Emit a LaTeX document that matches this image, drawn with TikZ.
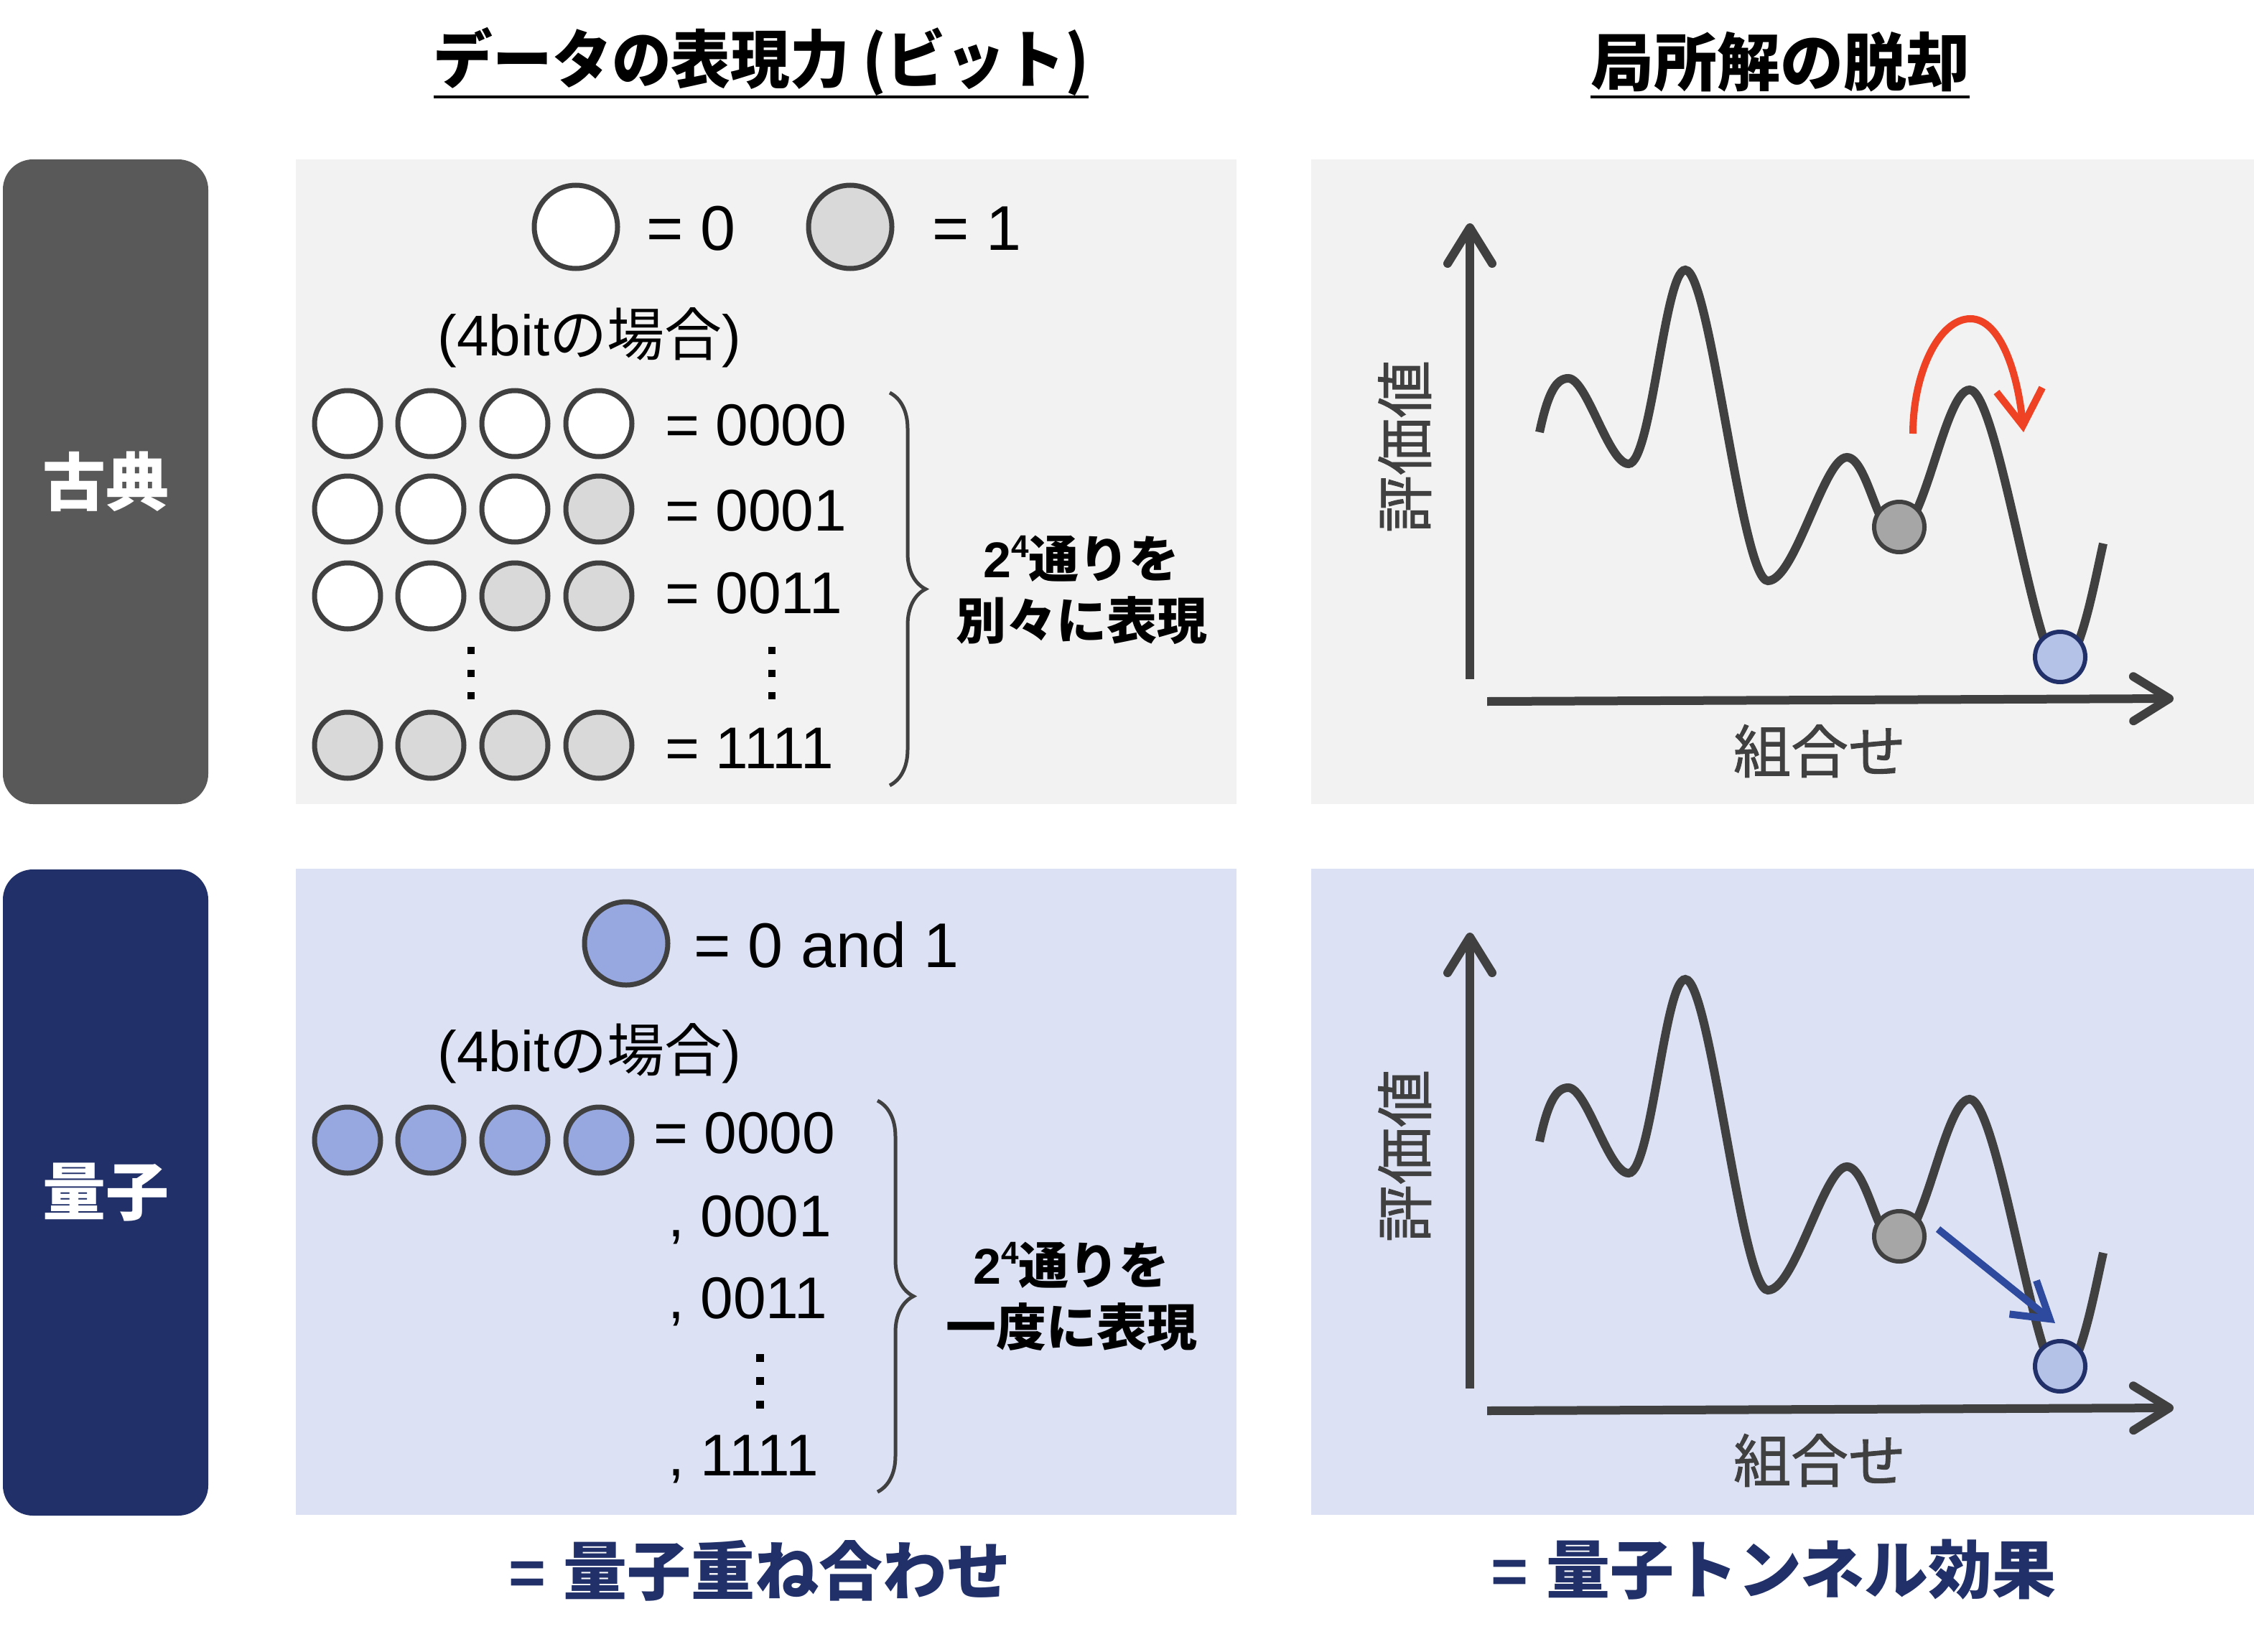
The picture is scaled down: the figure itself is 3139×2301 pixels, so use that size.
\documentclass[tikz,border=0pt]{standalone}
\usepackage{fontspec}
\setmainfont{Liberation Sans}
\newfontfamily\cjk{Noto Sans CJK JP}
\newfontfamily\cjkmed{Noto Sans CJK JP}[FakeBold=1.2]
\usetikzlibrary{arrows.meta,decorations.pathreplacing}
\definecolor{dgray}{HTML}{595959}
\definecolor{navy}{HTML}{213069}
\definecolor{clbg}{HTML}{F2F2F2}
\definecolor{qbg}{HTML}{DCE1F3}
\definecolor{lnc}{HTML}{404040}
\definecolor{onec}{HTML}{D9D9D9}
\definecolor{qc}{HTML}{97A7DF}
\definecolor{ballg}{HTML}{A6A6A6}
\definecolor{ballb}{HTML}{B4C2E8}
\definecolor{redc}{HTML}{EF4123}
\definecolor{bluec}{HTML}{2E4A9E}
\newcommand{\fs}[1]{\fontsize{#1}{#1}\selectfont}
\newcommand{\landscapecurve}{(2144,602) .. controls (2156,545) and (2168,527) .. (2184,527)
 .. controls (2210,527) and (2240,646) .. (2268,646)
 .. controls (2300,646) and (2318,376) .. (2347,376)
 .. controls (2382,376) and (2425,809) .. (2462,809)
 .. controls (2500,809) and (2540,637) .. (2572,637)
 .. controls (2600,637) and (2615,745) .. (2640,745)
 .. controls (2680,745) and (2708,543) .. (2743,543)
 .. controls (2782,543) and (2835,930) .. (2868,930)
 .. controls (2895,930) and (2915,820) .. (2929,757)}
\begin{document}
\begin{tikzpicture}[x=1pt,y=-1pt,
  lab/.style={rectangle, rounded corners=42pt, minimum width=286pt, text=white, font=\cjk\bfseries\fs{88}, inner sep=0},
  panel/.style={rectangle, minimum width=1310pt, minimum height=898pt, inner sep=0},
  gpanel/.style={rectangle, minimum width=1313pt, minimum height=898pt, inner sep=0},
  title/.style={font=\cjk\bfseries\fs{88}, inner sep=0},
  bottomtxt/.style={font=\bfseries\fs{89}, text=navy, inner sep=0},
  bigbit/.style={circle, draw=lnc, line width=7pt, minimum size=116pt, inner sep=0},
  bit/.style={circle, draw=lnc, line width=7pt, minimum size=92pt, inner sep=0},
  eq/.style={font=\fs{88}, anchor=west, inner sep=0},
  num/.style={font=\fs{82}, anchor=west, inner sep=0},
  sub/.style={font=\fs{80}, inner sep=0},
  expl/.style={font=\cjk\bfseries\fontsize{70}{86}\selectfont, align=center, inner sep=0},
  glab/.style={font=\cjkmed\fs{80}, text=lnc, inner sep=0},
  axisline/.style={draw=lnc, line width=12pt, -{Straight Barb[length=50pt,width=62pt,round]}},
  curve/.style={draw=lnc, line width=12pt},
  brc/.style={draw=lnc, line width=5pt, decorate, decoration={brace, amplitude=50pt, aspect=0.5}},
]
\useasboundingbox (0,0) rectangle (3139,2301);
\fill[white] (0,0) rectangle (3139,2301);

% titles
\node[title, xscale=0.94] (t1) at (1060,86) {データの表現力 (ビット)};
\node[title] (t2) at (2479,86) {局所解の脱却};
\coordinate (ul) at (0,135);
\draw[line width=4.5pt] (t1.west |- ul) -- (t1.east |- ul);
\draw[line width=4.5pt] (t2.west |- ul) -- (t2.east |- ul);

% row labels
\node[lab, fill=dgray, minimum height=898pt] (lc) at (147,671) {古典};
\node[lab, fill=navy, minimum height=900pt] (lq) at (147,1661) {量子};

% panels
\node[panel, fill=clbg] (pcd) at (1067,671) {};
\node[gpanel, fill=clbg] (pcg) at (2482.5,671) {};
\node[panel, fill=qbg, minimum height=900pt] (pqd) at (1067,1660) {};
\node[gpanel, fill=qbg, minimum height=900pt] (pqg) at (2482.5,1660) {};

% ---- classical data ----
\node[bigbit, fill=white] (z0) at (802,316) {};
\node[eq] (e0) at (900,318) {= 0};
\node[bigbit, fill=onec] (z1) at (1184,316) {};
\node[eq] (e1) at (1298,318) {= 1};
\node[sub] (s1) at (821,470) {(4bit{\cjk の場合})};

\node[bit, fill=white] (a1) at (484,590) {};
\node[bit, fill=white] (a2) at (600,590) {};
\node[bit, fill=white] (a3) at (717,590) {};
\node[bit, fill=white] (a4) at (834,590) {};
\node[num] (ra) at (926,592) {= 0000};
\node[bit, fill=white] (b1) at (484,709) {};
\node[bit, fill=white] (b2) at (600,709) {};
\node[bit, fill=white] (b3) at (717,709) {};
\node[bit, fill=onec] (b4) at (834,709) {};
\node[num] (rb) at (926,711) {= 0001};
\node[bit, fill=white] (c1) at (484,830) {};
\node[bit, fill=white] (c2) at (600,830) {};
\node[bit, fill=onec] (c3) at (717,830) {};
\node[bit, fill=onec] (c4) at (834,830) {};
\node[num] (rc) at (926,826) {= 0011};
\node[bit, fill=onec] (d1) at (484,1038) {};
\node[bit, fill=onec] (d2) at (600,1038) {};
\node[bit, fill=onec] (d3) at (717,1038) {};
\node[bit, fill=onec] (d4) at (834,1038) {};
\node[num] (rd) at (926,1042) {= 1111};
\foreach \yy in {901,933,964} {
  \fill (651,\yy) rectangle ++(10,10);
  \fill (1070,\yy) rectangle ++(10,10);
}
\coordinate (cbt) at (1239,547);
\coordinate (cbb) at (1239,1094);
\draw[brc] (cbt) -- (cbb);
\node[expl] (x1) at (1506,822) {{\rmfamily 2\raisebox{0.4em}{\fs{44}4}}通りを\\別々に表現};

% ---- quantum data ----
\node[bigbit, fill=qc] (q0) at (872,1314) {};
\node[eq] (qe) at (966,1316) {= 0 and 1};
\node[sub] (s2) at (821,1467) {(4bit{\cjk の場合})};
\node[bit, fill=qc] (p1) at (484,1588) {};
\node[bit, fill=qc] (p2) at (600,1588) {};
\node[bit, fill=qc] (p3) at (717,1588) {};
\node[bit, fill=qc] (p4) at (834,1588) {};
\node[num] (qa) at (910,1578) {= 0000};
\node[num] (qb) at (930,1699) {, 0001};
\node[num] (qc1) at (930,1813) {, 0011};
\node[num] (qd) at (930,2033) {, 1111};
\foreach \yy in {1886,1918,1951} {
  \fill (1053,\yy) rectangle ++(11,11);
}
\coordinate (qbt) at (1222,1533);
\coordinate (qbb) at (1222,2078);
\draw[brc] (qbt) -- (qbb);
\node[expl] (x2) at (1492,1806) {{\rmfamily 2\raisebox{0.4em}{\fs{44}4}}通りを\\一度に表現};

% ---- classical landscape ----
\coordinate (cy0) at (2047,946);
\coordinate (cy1) at (2047,311);
\coordinate (cx0) at (2071,977);
\coordinate (cx1) at (3027,973);
\draw[axisline] (cy0) -- (cy1);
\draw[axisline] (cx0) -- (cx1);
\node[glab, rotate=90] (cyl) at (1956,622) {評価値};
\node[glab] (cxl) at (2534,1046) {組合せ};
\draw[curve] \landscapecurve;
\node[circle, draw=lnc, line width=6pt, fill=ballg, minimum size=70pt, inner sep=0] (cg) at (2645,734) {};
\node[circle, draw=navy, line width=6pt, fill=ballb, minimum size=70pt, inner sep=0] (cb) at (2869,915) {};
\draw[draw=redc, line width=10pt, -{Straight Barb[length=50pt,width=64pt]}]
  (2664,604) .. controls (2664,520) and (2700,444) .. (2744,444) .. controls (2786,444) and (2810,520) .. (2818,602);

% ---- quantum landscape ----
\begin{scope}[shift={(0,988)}]
\coordinate (qy0) at (2047,946);
\coordinate (qy1) at (2047,311);
\coordinate (qx0) at (2071,977);
\coordinate (qx1) at (3027,973);
\draw[axisline] (qy0) -- (qy1);
\draw[axisline] (qx0) -- (qx1);
\node[glab, rotate=90] (qyl) at (1956,622) {評価値};
\node[glab] (qxl) at (2534,1046) {組合せ};
\draw[curve] \landscapecurve;
\node[circle, draw=lnc, line width=6pt, fill=ballg, minimum size=70pt, inner sep=0] (qg) at (2645,734) {};
\node[circle, draw=navy, line width=6pt, fill=ballb, minimum size=70pt, inner sep=0] (qbl) at (2869,915) {};
\end{scope}
\draw[draw=bluec, line width=10pt, -{Straight Barb[length=48pt,width=60pt]}] (2699,1712) -- (2862,1843);

% bottom captions
\node[bottomtxt] (bt1) at (1058,2188) {= {\cjk 量子重ね合わせ}};
\node[bottomtxt] (bt2) at (2470,2186) {= {\cjk 量子トンネル効果}};
\end{tikzpicture}
\end{document}
